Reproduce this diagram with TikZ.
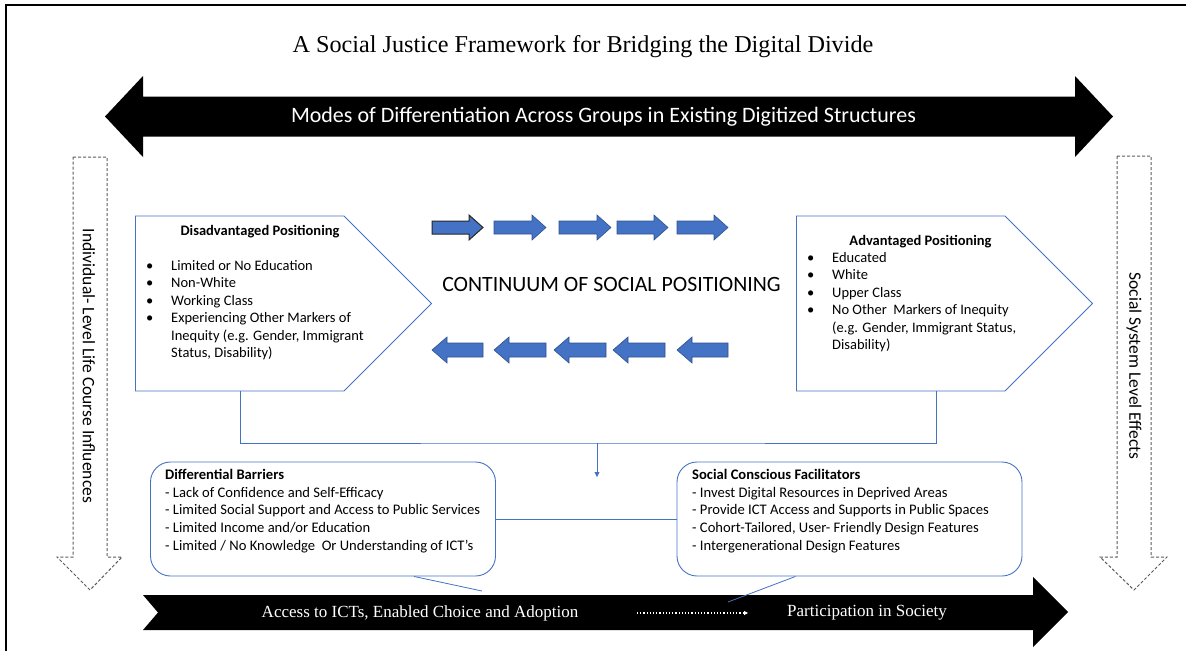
\documentclass[tikz,border=0pt]{standalone}
\usepackage{fontspec}
\setmainfont{Carlito}
\newfontfamily\serifface{Liberation Serif}
\usetikzlibrary{arrows.meta,shapes.symbols}
\definecolor{officeblue}{HTML}{4472C4}
\definecolor{darkblue}{HTML}{2F528F}
\definecolor{dashgray}{HTML}{5A5A5A}

\begin{document}
\begin{tikzpicture}[
    x=1pt, y=-1pt,
    position/.style = {draw=officeblue, line width=0.9pt, signal, signal to=east, signal pointer angle=90, minimum width=296pt, minimum height=175pt, inner sep=0pt, anchor=west},
    bubble/.style = {draw=officeblue, line width=0.9pt, rounded corners=20pt, minimum width=345pt, minimum height=114pt},
    link/.style = {draw=officeblue, line width=0.8pt},
    listtext/.style = {anchor=base west, inner sep=0pt, font=\fontsize{14.5}{17.4}\selectfont},
    bubbletext/.style = {anchor=base west, inner sep=0pt, font=\fontsize{14.6}{17.7}\selectfont},
    boxtitle/.style = {anchor=base, inner sep=0pt, font=\fontsize{14.5}{17}\selectfont\bfseries},
    bandtext/.style = {text=white, inner sep=0pt, font=\serifface\fontsize{17}{20}\selectfont},
    sidetext/.style = {rotate=-90, inner sep=0pt, font=\fontsize{17.5}{20}\selectfont},
    dashbox/.style = {draw=dashgray, line width=1pt, dash pattern=on 3pt off 2pt},
    bluearrow/.style = {fill=officeblue, draw=darkblue, line width=0.6pt}
  ]
  \useasboundingbox (0,0) rectangle (1186,651);

  % frame and title
  \draw[line width=2pt] (6,651) -- (6,5) -- (1186,5);
  \node[font=\serifface\fontsize{24.2}{27}\selectfont] (title) at (583,47) {A Social Justice Framework for Bridging the Digital Divide};

  % top double arrow
  \fill (105,116.5) -- (143,76) -- (143,96.5) -- (1075,96.5) -- (1075,76) -- (1113,116.5) -- (1075,157) -- (1075,136.5) -- (143,136.5) -- (143,157) -- cycle;
  \node[text=white, font=\fontsize{22}{25}\selectfont] (modes) at (603.5,116.5) {Modes of Differentiation Across Groups in Existing Digitized Structures};

  % side arrows
  \draw[dashbox] (73,157) -- (107,157) -- (107,557) -- (122,557) -- (90,590) -- (57,557) -- (73,557) -- cycle;
  \draw[dashbox] (1117,156) -- (1151,156) -- (1151,557) -- (1167,557) -- (1134,590) -- (1100,557) -- (1117,557) -- cycle;
  \node[sidetext] (lifecourse) at (89,366) {Individual- Level Life Course Influences};
  \node[sidetext] (systemeffects) at (1134,366) {Social System Level Effects};

  % positioning boxes
  \node[position] (disadv) at (135,303.5) {};
  \node[position] (adv) at (796,303.5) {};
  \node[boxtitle] (disadvtitle) at (260,235.5) {Disadvantaged Positioning};
  \node[listtext] (disadvlist) at (146,270.5) {\begin{tabular}[t]{@{}p{25pt}@{}l@{}}
    \textbullet & Limited or No Education\\
    \textbullet & Non-White\\
    \textbullet & Working Class\\
    \textbullet & Experiencing Other Markers of\\
                & Inequity (e.g. Gender, Immigrant\\
                & Status, Disability)
  \end{tabular}};
  \node[boxtitle] (advtitle) at (920.5,245) {Advantaged Positioning};
  \node[listtext] (advlist) at (807,262.5) {\begin{tabular}[t]{@{}p{25pt}@{}l@{}}
    \textbullet & Educated\\
    \textbullet & White\\
    \textbullet & Upper Class\\
    \textbullet & No Other\ \ Markers of Inequity\\
                & (e.g. Gender, Immigrant Status,\\
                & Disability)
  \end{tabular}};

  % continuum
  \node[font=\fontsize{21.8}{24}\selectfont] (continuum) at (611.5,285) {CONTINUUM OF SOCIAL POSITIONING};
  \filldraw[bluearrow, draw=black!85, line width=1pt] (432,221) -- (469,221) -- (469,215) -- (483,227.5) -- (469,240) -- (469,234) -- (432,234) -- cycle;
  \foreach \xa/\xb in {494/546, 559/611, 617/668, 677/728}
    \filldraw[bluearrow] (\xa,221) -- (\xb-14,221) -- (\xb-14,215) -- (\xb,227.5) -- (\xb-14,240) -- (\xb-14,234) -- (\xa,234) -- cycle;
  \foreach \xa/\xb in {432/483, 494/546, 554/606, 613/665, 677/728}
    \filldraw[bluearrow] (\xa,350) -- (\xa+15,337) -- (\xa+15,343) -- (\xb,343) -- (\xb,357) -- (\xa+15,357) -- (\xa+15,363) -- cycle;

  % joining lines
  \coordinate (disadvfoot) at (240,391);
  \coordinate (advfoot) at (936,391);
  \coordinate (join) at (597,443);
  \coordinate (joinend) at (597,477);
  \draw[link] (disadvfoot) |- (join) -| (advfoot);
  \draw[link, -{Triangle[length=5pt,width=5pt]}] (join) -- (joinend);

  % barriers and facilitators
  \node[bubble] (barriers) at (323,519) {};
  \node[bubble] (facil) at (849.5,519) {};
  \node[bubbletext] (barrierstext) at (165,479.5) {\begin{tabular}[t]{@{}l@{}}
    \textbf{Differential Barriers}\\
    - Lack of Confidence and Self-Efficacy\\
    - Limited Social Support and Access to Public Services\\
    - Limited Income and/or Education\\
    - Limited / No Knowledge\ \ Or Understanding of ICT’s
  \end{tabular}};
  \node[bubbletext] (faciltext) at (692,479.5) {\begin{tabular}[t]{@{}l@{}}
    \textbf{Social Conscious Facilitators}\\
    - Invest Digital Resources in Deprived Areas\\
    - Provide ICT Access and Supports in Public Spaces\\
    - Cohort-Tailored, User- Friendly Design Features\\
    - Intergenerational Design Features
  \end{tabular}};
  \draw[link] (barriers.east) -- (facil.west);

  % bottom arrow
  \fill (143,595) -- (1033,595) -- (1033,577) -- (1068,612) -- (1033,647) -- (1033,630) -- (143,630) -- (158,612.5) -- cycle;
  \node[bandtext] (access) at (420,613) {Access to ICTs, Enabled Choice and Adoption};
  \node[bandtext] (participation) at (867,613) {Participation in Society};
  \coordinate (dotstart) at (637,613);
  \coordinate (dotend) at (748,613);
  \draw[white, line width=1.2pt, dotted, -{Triangle[length=4pt,width=4pt]}] (dotstart) -- (dotend);

  % callout tails
  \coordinate (tailA) at (482,591);
  \coordinate (tailB) at (728,602);
  \draw[link] ([xshift=91pt]barriers.south) -- (tailA);
  \draw[link] ([xshift=-54pt]facil.south) -- (tailB);
\end{tikzpicture}
\end{document}
